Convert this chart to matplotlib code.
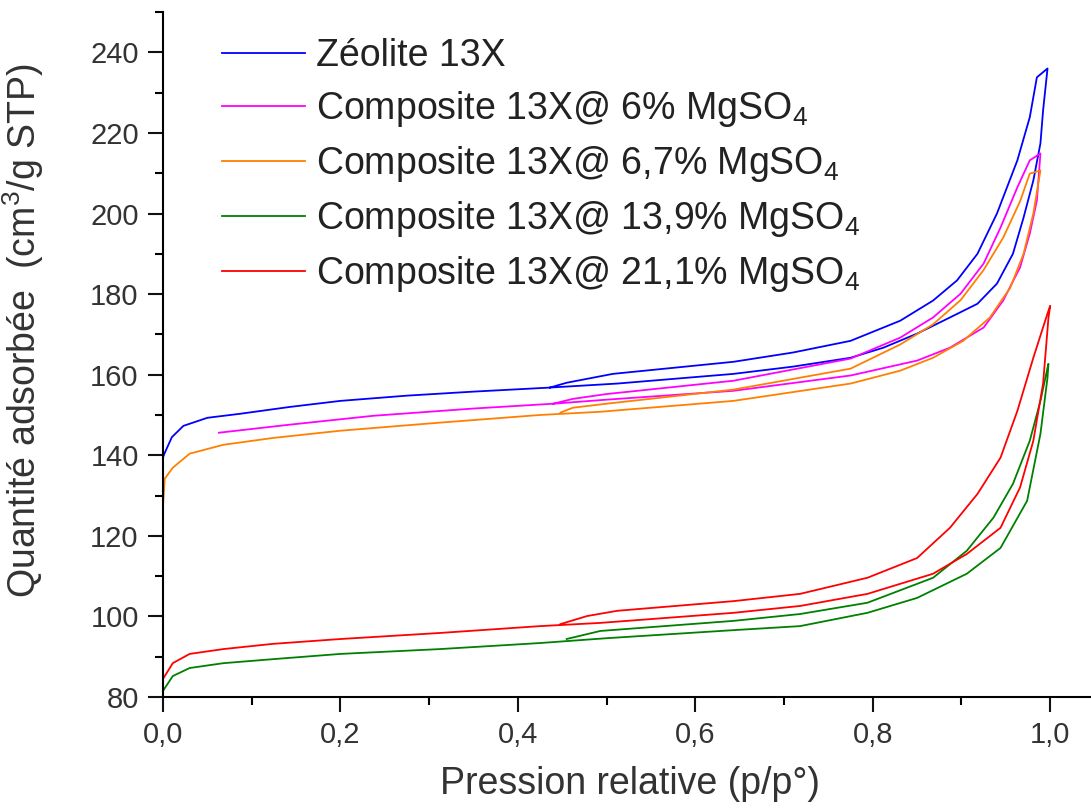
import matplotlib
matplotlib.use("Agg")
import matplotlib.pyplot as plt
from matplotlib.ticker import MultipleLocator, FuncFormatter

plt.rcParams['font.family'] = ['Liberation Sans', 'DejaVu Sans']
plt.rcParams['mathtext.fontset'] = 'custom'
plt.rcParams['mathtext.rm'] = 'Liberation Sans'
plt.rcParams['mathtext.it'] = 'Liberation Sans'

# ---- data (adsorption branch then desorption branch) ----
labels = ["Zéolite 13X",
          "Composite 13X@ 6% MgSO$_4$",
          "Composite 13X@ 6,7% MgSO$_4$",
          "Composite 13X@ 13,9% MgSO$_4$",
          "Composite 13X@ 21,1% MgSO$_4$"]
colors = ["#0000ff", "#ff00ff", "#ff8000", "#008000", "#ff0000"]

blue_ads_x = [0, 0.002, 0.01, 0.023, 0.05, 0.087, 0.143, 0.2, 0.275, 0.35, 0.436, 0.512, 0.643, 0.71, 0.775, 0.812, 0.85, 0.887, 0.918, 0.94, 0.958, 0.970, 0.981, 0.989, 0.992, 0.997]
blue_ads_y = [139.5, 140.6, 144.5, 147.3, 149.3, 150.3, 152.0, 153.5, 154.8, 155.8, 156.8, 157.8, 160.2, 162.0, 164.2, 166.7, 170.2, 174.2, 177.6, 182.6, 190, 199, 208.2, 217.4, 225.6, 236]
blue_des_x = [0.997, 0.985, 0.977, 0.963, 0.940, 0.918, 0.895, 0.868, 0.831, 0.775, 0.71, 0.643, 0.507, 0.455, 0.436]
blue_des_y = [236, 233.8, 223.9, 213.2, 200, 190, 183.4, 178.4, 173.4, 168.4, 165.5, 163.2, 160.2, 158, 156.8]

mag_ads_x = [0.063, 0.143, 0.237, 0.35, 0.44, 0.50, 0.643, 0.775, 0.850, 0.887, 0.925, 0.947, 0.966, 0.977, 0.985, 0.989]
mag_ads_y = [145.6, 147.6, 149.8, 151.6, 152.8, 153.8, 156.0, 159.8, 163.5, 166.7, 171.7, 178.4, 186.6, 195, 203.2, 214.9]
mag_des_x = [0.989, 0.977, 0.963, 0.944, 0.925, 0.899, 0.868, 0.831, 0.775, 0.643, 0.50, 0.462, 0.44]
mag_des_y = [214.9, 213.2, 206.5, 196.5, 187.6, 180.1, 174.2, 169.2, 164.0, 158.5, 155.2, 154.0, 152.8]

ora_ads_x = [0, 0.002, 0.011, 0.03, 0.068, 0.124, 0.2, 0.312, 0.425, 0.493, 0.643, 0.775, 0.831, 0.868, 0.902, 0.932, 0.955, 0.970, 0.981, 0.989]
ora_ads_y = [127.5, 134.2, 136.9, 140.4, 142.6, 144.3, 146.1, 148.1, 150.0, 150.8, 153.5, 157.8, 161.0, 164.2, 168.4, 174.2, 181.6, 190, 200, 210.7]
ora_des_x = [0.989, 0.977, 0.966, 0.947, 0.925, 0.899, 0.868, 0.831, 0.775, 0.643, 0.50, 0.462, 0.448]
ora_des_y = [210.7, 209.9, 203.0, 194.0, 186.0, 178.5, 172.5, 167.5, 161.5, 156.3, 152.8, 151.8, 150.6]

grn_ads_x = [0, 0.002, 0.011, 0.03, 0.068, 0.124, 0.2, 0.312, 0.425, 0.50, 0.643, 0.718, 0.794, 0.850, 0.906, 0.944, 0.974, 0.989, 0.997, 0.998]
grn_ads_y = [81.5, 82.2, 85.2, 87.2, 88.4, 89.4, 90.7, 91.9, 93.4, 94.6, 96.6, 97.6, 100.9, 104.6, 110.6, 117, 128.7, 145.3, 159.3, 162.7]
grn_des_x = [0.998, 0.997, 0.989, 0.977, 0.958, 0.936, 0.906, 0.868, 0.794, 0.718, 0.643, 0.493, 0.455]
grn_des_y = [162.7, 161.7, 153.5, 143.6, 132.9, 124.5, 116.3, 109.6, 103.4, 100.6, 98.9, 96.4, 94.4]

red_ads_x = [0, 0.002, 0.011, 0.03, 0.068, 0.124, 0.2, 0.312, 0.425, 0.493, 0.643, 0.718, 0.794, 0.868, 0.906, 0.944, 0.966, 0.981, 0.992, 0.998, 1.0]
red_ads_y = [84.5, 85.2, 88.4, 90.7, 91.9, 93.2, 94.4, 95.9, 97.6, 98.4, 100.9, 102.6, 105.6, 110.6, 115.5, 122, 132, 143.6, 157.8, 174, 177.1]
red_des_x = [1.0, 0.997, 0.981, 0.963, 0.944, 0.918, 0.887, 0.850, 0.794, 0.718, 0.643, 0.512, 0.478, 0.448]
red_des_y = [177.1, 175.2, 164.2, 151, 139.4, 130.4, 122, 114.5, 109.6, 105.6, 103.8, 101.4, 100.1, 98.1]

series = [
    (blue_ads_x + blue_des_x, blue_ads_y + blue_des_y),
    (mag_ads_x + mag_des_x, mag_ads_y + mag_des_y),
    (ora_ads_x + ora_des_x, ora_ads_y + ora_des_y),
    (grn_ads_x + grn_des_x, grn_ads_y + grn_des_y),
    (red_ads_x + red_des_x, red_ads_y + red_des_y),
]

fig = plt.figure(figsize=(10.91, 8.09), dpi=100)
ax = fig.add_axes([0.1494, 0.1384, 0.8506, 0.8467])

for (xs, ys), c, lab in zip(series, colors, labels):
    ax.plot(xs, ys, color=c, lw=1.3, label=lab)

ax.set_xlim(0, 1.046)
ax.set_ylim(80, 250)
ax.spines['top'].set_visible(False)
ax.spines['right'].set_visible(False)
for s in ('left', 'bottom'):
    ax.spines[s].set_linewidth(1.5)

ax.xaxis.set_major_locator(MultipleLocator(0.2))
ax.xaxis.set_minor_locator(MultipleLocator(0.1))
ax.yaxis.set_major_locator(MultipleLocator(20))
ax.yaxis.set_minor_locator(MultipleLocator(10))
ax.xaxis.set_major_formatter(FuncFormatter(lambda v, p: f"{v:.1f}".replace('.', ',')))
ax.yaxis.set_major_formatter(FuncFormatter(lambda v, p: f"{v:.0f}" if v <= 240 else ""))
ax.tick_params(which='major', direction='out', length=10.5, width=1.5, labelsize=21,
               colors='#111111', pad=7)
ax.tick_params(which='minor', direction='out', length=5.5, width=1.5)
for lbl in ax.get_xticklabels() + ax.get_yticklabels():
    lbl.set_color('#333333')

ax.set_xlabel("Pression relative (p/p°)", fontsize=27, color='#333333')
ax.xaxis.set_label_coords(0.503, -0.1)
ax.set_ylabel("Quantité adsorbée  (cm$^3$/g STP)", fontsize=27, color='#333333')
ax.yaxis.set_label_coords(-0.126, 0.535)

leg = ax.legend(loc='upper left', bbox_to_anchor=(0.064, 0.962), frameon=False,
                fontsize=27, handlelength=2.2, handletextpad=0.3,
                labelspacing=0.4, borderpad=0, borderaxespad=0)
for t in leg.get_texts():
    t.set_color('#222222')

fig.savefig("out.png", dpi=100)
